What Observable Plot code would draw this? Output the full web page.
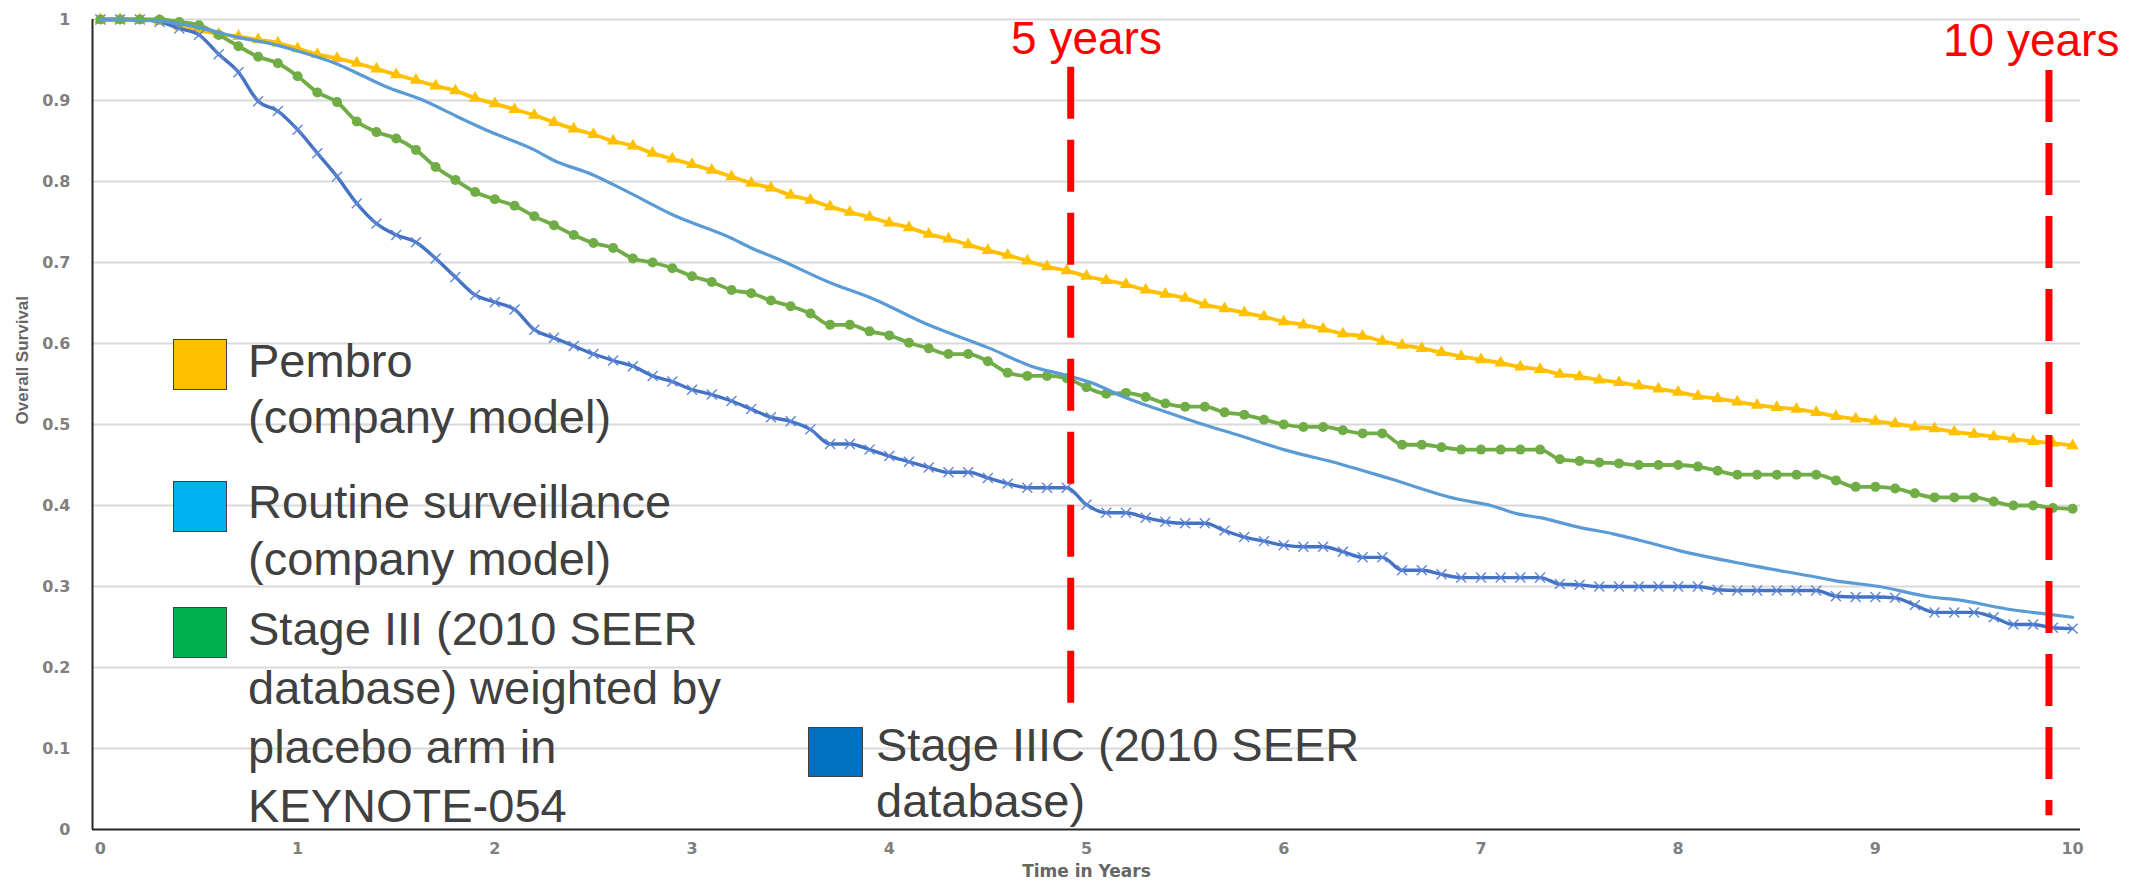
<!DOCTYPE html>
<html><head><meta charset="utf-8">
<script src="https://cdn.jsdelivr.net/npm/d3@7"></script>
<script src="https://cdn.jsdelivr.net/npm/@observablehq/plot@0.6"></script>
<style>
body{margin:0;background:#fff;}
#wrap{position:relative;width:2143px;height:881px;overflow:hidden;}
.lg{position:absolute;font-family:"Liberation Sans",Arial,sans-serif;font-size:47px;color:#404040;white-space:nowrap;}
.sw{position:absolute;border:1px solid #404040;box-sizing:border-box;}
</style></head><body><div id="wrap"></div>
<script>
// ---- data ----
const years = [0,0.1,0.2,0.3,0.4,0.5,0.6,0.7,0.8,0.9,1,1.1,1.2,1.3,1.4,1.5,1.6,1.7,1.8,1.9,2,2.1,2.2,2.3,2.4,2.5,2.6,2.7,2.8,2.9,3,3.1,3.2,3.3,3.4,3.5,3.6,3.7,3.8,3.9,4,4.1,4.2,4.3,4.4,4.5,4.6,4.7,4.8,4.9,5,5.1,5.2,5.3,5.4,5.5,5.6,5.7,5.8,5.9,6,6.1,6.2,6.3,6.4,6.5,6.6,6.7,6.8,6.9,7,7.1,7.2,7.3,7.4,7.5,7.6,7.7,7.8,7.9,8,8.1,8.2,8.3,8.4,8.5,8.6,8.7,8.8,8.9,9,9.1,9.2,9.3,9.4,9.5,9.6,9.7,9.8,9.9,10];
const pembro = [1.000,1.000,1.000,0.998,0.991,0.987,0.982,0.979,0.975,0.971,
0.964,0.957,0.952,0.946,0.939,0.932,0.925,0.918,0.912,0.903,
0.896,0.889,0.882,0.873,0.865,0.858,0.850,0.844,0.835,0.828,
0.821,0.814,0.806,0.798,0.792,0.783,0.777,0.769,0.762,0.756,
0.749,0.743,0.735,0.729,0.722,0.715,0.709,0.702,0.695,0.690,
0.683,0.678,0.673,0.666,0.661,0.656,0.648,0.643,0.638,0.633,
0.627,0.623,0.618,0.612,0.609,0.603,0.598,0.594,0.589,0.584,
0.580,0.576,0.571,0.568,0.562,0.559,0.555,0.552,0.548,0.544,
0.540,0.535,0.532,0.528,0.524,0.521,0.519,0.515,0.510,0.507,
0.504,0.501,0.497,0.495,0.491,0.488,0.485,0.482,0.479,0.477,0.474];
const stageIII = [1.000,1.000,1.000,1.000,0.997,0.993,0.981,0.967,0.954,0.946,
0.930,0.910,0.898,0.874,0.861,0.853,0.839,0.818,0.802,0.787,
0.778,0.770,0.757,0.746,0.734,0.724,0.718,0.705,0.700,0.693,
0.683,0.676,0.666,0.662,0.653,0.646,0.637,0.623,0.623,0.615,
0.610,0.601,0.594,0.587,0.587,0.578,0.564,0.560,0.560,0.557,
0.546,0.538,0.539,0.534,0.526,0.522,0.522,0.515,0.512,0.506,
0.500,0.497,0.497,0.493,0.489,0.489,0.475,0.475,0.472,0.469,
0.469,0.469,0.469,0.469,0.457,0.455,0.453,0.452,0.450,0.450,
0.450,0.448,0.443,0.438,0.438,0.438,0.438,0.438,0.431,0.423,
0.423,0.421,0.415,0.410,0.410,0.410,0.405,0.400,0.400,0.397,0.396];
const stageIIIC = [1.000,1.000,1.000,0.997,0.989,0.981,0.957,0.935,0.899,0.887,
0.864,0.835,0.806,0.773,0.748,0.734,0.725,0.705,0.682,0.660,
0.651,0.642,0.617,0.607,0.597,0.587,0.579,0.572,0.560,0.553,
0.543,0.537,0.529,0.519,0.509,0.504,0.494,0.476,0.476,0.469,
0.461,0.454,0.447,0.441,0.441,0.434,0.427,0.422,0.422,0.422,
0.401,0.391,0.391,0.385,0.380,0.378,0.378,0.369,0.361,0.356,
0.351,0.349,0.349,0.343,0.336,0.336,0.320,0.320,0.315,0.311,
0.311,0.311,0.311,0.311,0.303,0.302,0.300,0.300,0.300,0.300,
0.300,0.300,0.296,0.295,0.295,0.295,0.295,0.295,0.288,0.287,
0.287,0.286,0.277,0.268,0.268,0.268,0.262,0.253,0.253,0.249,0.248];
const routineYears = [0,0.3,0.5,0.7,0.9,1.0,1.2,1.3,1.44,1.64,1.81,1.98,2.2,2.3,2.49,2.66,2.91,3.2,3.3,3.43,3.7,3.92,4.18,4.51,4.72,4.89,5.02,5.19,5.36,5.58,5.78,6.0,6.29,6.54,6.88,7.05,7.18,7.3,7.5,7.67,7.79,8.01,8.35,8.69,8.8,9.02,9.28,9.4,9.7,9.87,10];
const routine = [1.0,0.998,0.99,0.978,0.968,0.961,0.945,0.934,0.918,0.900,0.880,0.861,0.839,0.826,0.809,0.789,0.758,0.730,0.718,0.705,0.675,0.655,0.625,0.594,0.572,0.561,0.552,0.534,0.519,0.501,0.486,0.469,0.451,0.433,0.408,0.400,0.390,0.385,0.373,0.365,0.358,0.344,0.327,0.312,0.307,0.300,0.287,0.284,0.271,0.266,0.262];

const seriesNames = ["Pembro (company model)", "Routine surveillance (company model)", "Stage III (2010 SEER database) weighted by placebo arm in KEYNOTE-054", "Stage IIIC (2010 SEER database)"];
const lineColors = ["#FFC000", "#5B9BD5", "#70AD47", "#4472C4"];
const legendColors = ["#FFC000", "#00B0F0", "#00B050", "#0070C0"];
const legendLines = [["Pembro","(company model)"],["Routine surveillance","(company model)"],["Stage III (2010 SEER","database) weighted by","placebo arm in","KEYNOTE-054"],["Stage IIIC (2010 SEER","database)"]];

const xTicks = [0,1,2,3,4,5,6,7,8,9,10];
const yTicks = [0,0.1,0.2,0.3,0.4,0.5,0.6,0.7,0.8,0.9,1];
const xDomain = [-0.04, 10.04];
const milestones = [
  {x: 4.92, top: 0.941, bottom: 0.155, labelX: 5.0, labelY: 0.975, label: "5 years"},
  {x: 9.88, top: 0.937, bottom: 0.017, labelX: 9.79, labelY: 0.973, label: "10 years"}
];

// ---- tables ----
const rowsOf = (xs, vs, s) => xs.map((t, i) => ({t, v: vs[i], series: s}));
const pembroRows = rowsOf(years, pembro, seriesNames[0]);
const routineRows = rowsOf(routineYears, routine, seriesNames[1]);
const stage3Rows = rowsOf(years, stageIII, seriesNames[2]);
const stage3cRows = rowsOf(years, stageIIIC, seriesNames[3]);

const lineOpts = {x: "t", y: "v", stroke: "series", curve: "monotone-x"};

const chart = Plot.plot({
  width: 2143, height: 881,
  marginLeft: 92, marginRight: 63, marginTop: 19, marginBottom: 52,
  x: {domain: xDomain, axis: null},
  y: {domain: [0, 1], axis: null},
  color: {domain: seriesNames, range: lineColors},
  style: {background: "#fff", overflow: "visible"},
  marks: [
    Plot.gridY(yTicks.filter(d => d > 0), {stroke: "#d9d9d9", strokeOpacity: 1, strokeWidth: 2}),
    Plot.axisX({ticks: xTicks, tickSize: 0, tickPadding: 13, fontSize: 16, fontWeight: "bold", fontFamily: "DejaVu Sans", fill: "#7f7f7f", label: null, tickFormat: d => String(d)}),
    Plot.axisY({ticks: yTicks, tickSize: 0, tickPadding: 22, fontSize: 16, fontWeight: "bold", fontFamily: "DejaVu Sans", fill: "#7f7f7f", label: null, tickFormat: d => String(+d.toFixed(1))}),
    Plot.text(["Time in Years"], {frameAnchor: "bottom", dy: 42, lineAnchor: "middle", fontSize: 17, fontWeight: "bold", fontFamily: "DejaVu Sans", fill: "#666"}),
    Plot.text(["Overall Survival"], {frameAnchor: "left", dx: -70, rotate: -90, lineAnchor: "middle", fontSize: 17, fontWeight: "bold", fontFamily: "Liberation Sans", fill: "#666"}),
    Plot.line(pembroRows, {...lineOpts, strokeWidth: 3.8}),
    Plot.dot(pembroRows, {x: "t", y: "v", symbol: "triangle", fill: lineColors[0], r: 4.6}),
    Plot.line(stage3cRows, {...lineOpts, strokeWidth: 3.4}),
    Plot.dot(stage3cRows, {x: "t", y: "v", symbol: "times", stroke: "#5f86d6", strokeWidth: 1.4, r: 4.6}),
    Plot.line(stage3Rows, {...lineOpts, strokeWidth: 3.8}),
    Plot.dot(stage3Rows, {x: "t", y: "v", symbol: "circle", fill: lineColors[2], r: 5}),
    Plot.line(routineRows, {...lineOpts, strokeWidth: 3.2}),
    Plot.ruleY([0], {stroke: "#262626", strokeWidth: 2}),
    Plot.ruleX([xDomain[0]], {stroke: "#262626", strokeWidth: 2}),
    Plot.ruleX(milestones, {x: "x", y1: "top", y2: "bottom", stroke: "#ff0000", strokeWidth: 7, strokeDasharray: "52,21"}),
    Plot.text(milestones, {x: "labelX", y: "labelY", text: "label", fill: "#ff0000", fontSize: 46, fontFamily: "Liberation Sans", fontWeight: "normal", lineAnchor: "middle"})
  ]
});

const wrap = document.getElementById("wrap");
wrap.appendChild(chart);

// ---- legend (HTML overlay) ----
const legendBoxes = [
  {sx: 173, sy: 339, sw: 54, sh: 51, tx: 248, ty: 333, lh: 56},
  {sx: 173, sy: 481, sw: 54, sh: 51, tx: 248, ty: 473, lh: 57},
  {sx: 173, sy: 607, sw: 54, sh: 51, tx: 248, ty: 599, lh: 59},
  {sx: 808, sy: 727, sw: 55, sh: 50, tx: 876, ty: 717, lh: 56}
];
legendBoxes.forEach((b, i) => {
  const s = document.createElement("div");
  s.className = "sw";
  Object.assign(s.style, {left: b.sx + "px", top: b.sy + "px", width: b.sw + "px", height: b.sh + "px", background: legendColors[i]});
  wrap.appendChild(s);
  const t = document.createElement("div");
  t.className = "lg";
  Object.assign(t.style, {left: b.tx + "px", top: b.ty + "px", lineHeight: b.lh + "px"});
  t.innerHTML = legendLines[i].join("<br>");
  wrap.appendChild(t);
});
</script></body></html>
